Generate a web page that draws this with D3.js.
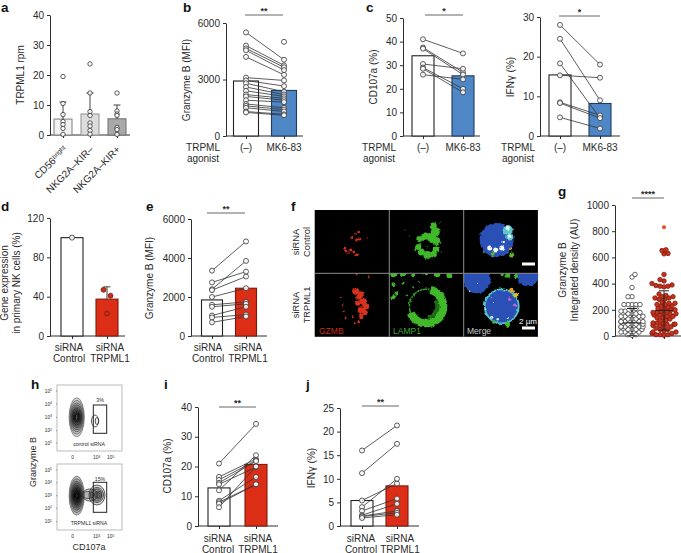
<!DOCTYPE html>
<html><head><meta charset="utf-8">
<script src="https://cdnjs.cloudflare.com/ajax/libs/d3/7.8.5/d3.min.js"></script>
<style>html,body{margin:0;padding:0;background:#fff}svg{display:block}text{font-family:"Liberation Sans",Arial,sans-serif;fill:#2a2a2a}</style>
</head><body><svg id="c" width="681" height="553"></svg>
<script>
// ---- data ----
const aCats=["CD56","NKG2A–KIR–","NKG2A–KIR+"];
const aMeans=[5.3,7,5.4];
const aErr=[11,14,10];
const aPts=[[19.5,10.5,6.8,4.5,3.5,2.2,0.2],[23.7,14,7.8,6.5,4,3,1.5,0.3],[14,8,7,6.5,2.5,1.8,0.2]];
const agonistCats=["(–)","MK6-83"];
const sirnaCats=["Control","TRPML1"];
const bMeans=[2920,2420];
const bL=[5500,4800,4650,4550,4200,3100,2950,2800,2600,2400,2200,2100,1900,1700,1600,1500,1300,1250];
const bR=[4050,3750,3650,3500,3250,2950,2650,2350,2200,2100,2000,1900,1800,1500,1400,1300,1150,1100];
const bExtra=[5000];
const c1Means=[34,25.5];
const c1L=[41,37.5,37,30.5,29,28.5,26];
const c1R=[35,27,26,28.5,20,18.5,24];
const c2Means=[15.4,8.2];
const c2L=[28,24.5,18.3,15.3,8.5,8.3,4.7];
const c2R=[18,9,4.5,14.7,5.2,4.5,1.9];
const dMeans=[100,37.5];
const dPts=[47,41,23];
const dErrTop=50;
const eMeans=[1850,2450];
const eL=[3350,2750,2400,2350,2000,1600,1500,1050,950,700];
const eR=[4850,3300,3850,3050,2450,1750,1650,1500,1100,1000];
const gLeft=[470,450,370,300,300,240,240,240,240,240,210,210,190,190,180,170,170,170,150,150,150,150,130,130,130,110,110,110,110,110,90,90,90,90,70,70,70,70,70,50,50,50,50,30,30,30,10,10,5];
const gRight=[652,627,630,658,470,430,420,400,390,385,380,375,380,320,310,300,300,290,290,280,280,260,250,250,240,240,230,230,220,210,210,200,200,190,190,180,180,170,170,170,160,160,150,150,140,140,130,120,120,100,100,100,90,90,90,80,80,70,70,60,50,50,40,30,30,20,20,10,10,10,5];
const gOutlier=[830];
const gStats=[{m:100,hi:210,lo:2},{m:195,hi:345,lo:45}];
const iMeans=[12.8,20.7];
const iL=[21,16.5,15.5,14.5,14,12,8.5,8,7.5,6.3];
const iR=[34.3,22.5,22,21.8,19.8,23.8,16.5,14,14,20];
const jMeans=[5.4,8.5];
const jL=[16,11.2,5.4,4,3.2,2.3,2.1,2,1.7];
const jR=[21.3,17.4,9,10,5.8,4.7,3.2,2.8,2.4];
const flowYTicks=["5","4","3","2","1"];
// micrograph spot lists: [x, y, r] inside one image tile
const ctlRed=[[44,22,1.3],[45,29,1.6],[42,30,1.5],[37,28,1.3],[52,28,1],[41,24,1],[30,38,1.5],[31,41,1.6],[36,40,1.6],[39,42,1.5],[42,45,1.4],[34,43,1.1]];
const ctlGreen=[[44,16,3.5],[46,22,4.5],[42,28,5],[36,27,4.5],[30,29,3],[47,31,4],[47,39,3.5],[44,44,3.5],[38,45,4],[32,42,3.5],[29,37,3],[26,40,1],[16,20,.5],[20,26,.5],[52,42,.6],[50,12,.5],[22,17,.4]];
const kdRed=[[41,18,3.5],[46,21,3],[44,24,2.5],[48,28,3.5],[51,33,3.5],[46,37,3],[50,39,3],[46,43,2.5],[43,30,2.5],[26,24,.9],[28,32,1],[29,38,1],[31,45,1],[40,50,1],[44,49,1.3],[38,44,1],[8,0,1],[20,1,1],[42,1,1],[54,4,1]];
const kdGreenTop=[[4,1,3],[14,0,3],[24,2,2],[36,0,2],[48,1,3],[60,2,3],[4,11,2],[14,10,1.5],[7,20,1.8],[4,24,2],[18,22,.9],[24,14,.9],[30,9,1.1]];
const mergeWhiteC=[[26,38,2.5],[32,40,2.5],[38,38,2.5],[44,18,2],[46,26,2],[40,32,1.2]];
const mergeWhiteK=[[28,44,1.5],[34,46,1.2],[14,10,.7],[6,18,.7],[30,30,.7],[44,45,1],[22,36,.8]];
const mergeHotK=[[48,17,2.5,"#e8a020"],[52,22,2.5,"#d9c030"],[46,26,1.8,"#c05ad0"],[51,32,1.8,"#c060d8"],[28,24,.9,"#d060c0"]];

// ---- helpers ----
const svg=d3.select("#c");
const defs=svg.append("defs");
const rough=defs.append("filter").attr("id","rough").attr("filterUnits","userSpaceOnUse").attr("x",-10).attr("y",-10).attr("width",100).attr("height",90);
rough.append("feTurbulence").attr("type","fractalNoise").attr("baseFrequency",.28).attr("numOctaves",2).attr("seed",4).attr("result","n");
rough.append("feDisplacementMap").attr("in","SourceGraphic").attr("in2","n").attr("scale",3).attr("xChannelSelector","R").attr("yChannelSelector","G");
rough.append("feGaussianBlur").attr("stdDeviation",.7);
defs.append("filter").attr("id","soft").append("feGaussianBlur").attr("stdDeviation",.3);
const INK="#2e2e2e", FS=10;
function txt(x,y,s,o={}){const t=svg.append("text").attr("x",x).attr("y",y).attr("font-size",o.fs||FS).attr("text-anchor",o.a||"middle").text(s);
  if(o.rot!=null)t.attr("transform",`rotate(${o.rot} ${x} ${y})`);
  if(o.w)t.attr("font-weight",o.w); if(o.fill)t.style("fill",o.fill); return t;}
function letter(s,x,y){txt(x,y,s,{fs:13.5,a:"start",w:"bold",fill:"#111"});}
function yAxis(x0,yTop,y0,max,ticks){
  const y=d3.scaleLinear().domain([0,max]).range([y0,yTop]);
  const g=svg.append("g").attr("transform",`translate(${x0},0)`).call(d3.axisLeft(y).tickValues(ticks).tickSize(3).tickSizeOuter(0).tickPadding(3).tickFormat(d3.format("d")));
  g.selectAll("text").attr("font-size",FS).style("font-family",'"Liberation Sans"');
  g.selectAll("line,path").attr("stroke",INK).attr("stroke-width",1);
  return y;
}
function xAxis(x0,xEnd,y0,cats,centers){
  const x=d3.scalePoint().domain(cats).range([centers[0],centers[centers.length-1]]);
  svg.append("line").attr("x1",x0).attr("x2",xEnd).attr("y1",y0).attr("y2",y0).attr("stroke",INK);
  const g=svg.append("g").attr("transform",`translate(0,${y0})`).call(d3.axisBottom(x).tickSize(3).tickSizeOuter(0).tickFormat(""));
  g.select("path").remove(); g.selectAll("line").attr("stroke",INK);
  return x;
}
function bars(x,y,cats,vals,w,fills,strokes){
  svg.selectAll(null).data(cats).enter().append("rect").attr("x",d=>x(d)-w/2).attr("width",w)
    .attr("y",(d,i)=>y(vals[i])).attr("height",(d,i)=>y(0)-y(vals[i]))
    .attr("fill",(d,i)=>fills[i]).attr("stroke",(d,i)=>strokes[i]).attr("stroke-width",1.1);
}
function pts(xv,ys,r=2.5,fill="#fff",stroke="#333"){
  svg.selectAll(null).data(ys).enter().append("circle").attr("cx",xv).attr("cy",d=>d).attr("r",r).attr("fill",fill).attr("fill-opacity",.85).attr("stroke",stroke).attr("stroke-width",.8);
}
function paired(x,y,cats,L,R){
  svg.selectAll(null).data(L).enter().append("line").attr("x1",x(cats[0])).attr("x2",x(cats[1]))
    .attr("y1",d=>y(d)).attr("y2",(d,i)=>y(R[i])).attr("stroke","#333").attr("stroke-width",.8);
  pts(x(cats[0]),L.map(y)); pts(x(cats[1]),R.map(y));
}
function sig(x1,x2,yy,s){
  svg.append("line").attr("x1",x1).attr("x2",x2).attr("y1",yy).attr("y2",yy).attr("stroke","#666").attr("stroke-width",1);
  txt((x1+x2)/2,yy-1.5,s,{fs:9,w:"bold"});
}
function errBar(cx,y1,y2){
  svg.append("line").attr("x1",cx).attr("x2",cx).attr("y1",y1).attr("y2",y2).attr("stroke","#444");
  svg.append("line").attr("x1",cx-3.5).attr("x2",cx+3.5).attr("y1",y2).attr("y2",y2).attr("stroke","#444");
}
function labelsTwo(cxs,y1,y2,top,bottom){cxs.forEach((c,i)=>{txt(c,y1,top);txt(c,y2,bottom[i]);});}
const WHITE="#fff",BK="#222",BLUE="#4f86c6",BLUEK="#1d3d5e",RED="#dc2e16",REDK="#7e1a0c";

// ---- a ----
letter("a",1,12);
{const y=yAxis(50,15,135,40,[0,10,20,30,40]);const x=xAxis(50,130,135,aCats,[63,90,117]);
 bars(x,y,aCats,aMeans,18,["#f1f1f1","#dcdcdc","#a9a9a9"],["#888","#999","#777"]);
 aCats.forEach((c,i)=>{errBar(x(c),y(aMeans[i]),y(aErr[i]));pts(x(c),aPts[i].map(y),2.2);});
 txt(24,75,"TRPML1 rpm",{rot:-90});
 const t=txt(68,150,"CD56",{a:"end",rot:-45});t.append("tspan").attr("font-size",6.5).attr("dy",-3).text("bright");
 txt(94,150,aCats[1],{a:"end",rot:-45}); txt(121,150,aCats[2],{a:"end",rot:-45});}

// ---- b ----
letter("b",183,12);
{const y=yAxis(226,23,136,6000,[0,3000,6000]);const x=xAxis(226,303,136,agonistCats,[246,284]);
 bars(x,y,agonistCats,bMeans,25,[WHITE,BLUE],[BK,BLUEK]);paired(x,y,agonistCats,bL,bR);pts(284,bExtra.map(y));
 sig(245,283,15,"**");txt(190,80,"Granzyme B (MFI)",{rot:-90});
 labelsTwo([203],150.5,162,"TRPML",["agonist"]);agonistCats.forEach(c=>txt(x(c),150.5,c));}

// ---- c ----
letter("c",366,12);
{const y=yAxis(403,18,136,50,[0,10,20,30,40,50]);const x=xAxis(403,480,136,agonistCats,[423,463]);
 bars(x,y,agonistCats,c1Means,22,[WHITE,BLUE],[BK,BLUEK]);paired(x,y,agonistCats,c1L,c1R);
 sig(425,463,15,"*");txt(377,77,"CD107a (%)",{rot:-90});
 labelsTwo([379],150.5,162,"TRPML",["agonist"]);agonistCats.forEach(c=>txt(x(c),150.5,c));}
{const y=yAxis(540,17,136,30,[0,10,20,30]);const x=xAxis(540,620,136,agonistCats,[560,600]);
 bars(x,y,agonistCats,c2Means,22,[WHITE,BLUE],[BK,BLUEK]);paired(x,y,agonistCats,c2L,c2R);
 sig(559,600,16,"*");
 const t=txt(514,77,"IFN",{rot:-90});t.append("tspan").style("font-family",'"DejaVu Sans"').text("γ");t.append("tspan").text(" (%)");
 labelsTwo([518],150.5,162,"TRPML",["agonist"]);agonistCats.forEach(c=>txt(x(c),150.5,c));}

// ---- d ----
letter("d",1,211);
{const y=yAxis(50,218,336,120,[0,40,80,120]);const x=xAxis(50,125,336,sirnaCats,[72,107]);
 bars(x,y,sirnaCats,dMeans,22,[WHITE,RED],[BK,REDK]);
 errBar(107,y(37.5),y(dErrTop));
 pts(72,[y(100)],2.5);
 svg.selectAll(null).data(dPts).enter().append("circle").attr("cx",(d,i)=>107+[-3.5,3.5,0][i]).attr("cy",d=>y(d)).attr("r",2.5).attr("fill","#c0301c").attr("stroke","#7a1a0d").attr("stroke-width",.7);
 txt(8,283,"Gene expression",{rot:-90});txt(20,283,"in primary NK cells (%)",{rot:-90});
 labelsTwo([69,110],350.5,362,"siRNA",sirnaCats);}

// ---- e ----
letter("e",146,211);
{const y=yAxis(191,219,336,6000,[0,2000,4000,6000]);const x=xAxis(191,267,336,sirnaCats,[212,246]);
 bars(x,y,sirnaCats,eMeans,21,[WHITE,RED],[BK,REDK]);paired(x,y,sirnaCats,eL,eR);
 sig(207,245,213,"**");txt(153,278,"Granzyme B (MFI)",{rot:-90});
 labelsTwo([208,248],350.5,362,"siRNA",sirnaCats);}

// ---- f ----
letter("f",291,211);
{const xs=[314.7,389.3,463.7],ys=[210,273.3],W=74.5,H=63.4;
 svg.append("rect").attr("x",xs[0]).attr("y",ys[0]).attr("width",W*3-.3).attr("height",H*2).attr("fill","#000");
 function tile(i,j,fn){const id=`cp${i}${j}`;
   defs.append("clipPath").attr("id",id).append("rect").attr("width",W).attr("height",H);
   const g=svg.append("g").attr("transform",`translate(${xs[i]},${ys[j]})`).attr("clip-path",`url(#${id})`).append("g").attr("filter","url(#rough)");fn(g);}
 function spots(g,arr,col){g.selectAll(null).data(arr).enter().append("circle").attr("cx",d=>d[0]).attr("cy",d=>d[1]).attr("r",d=>d[2]).attr("fill",d=>d[3]||col);}
 tile(0,0,g=>spots(g,ctlRed,"#d8301e"));
 tile(1,0,g=>{spots(g,ctlGreen,"#3fb82a");spots(g,[[37,33,3.5]],"#000");spots(g,[[38,37,1.5]],"#163f12");});
 tile(2,0,g=>{spots(g,[[33,30,17]],"#2b4fb5");spots(g,[[44,20,5],[46,27,3.5]],"#5fc8c8");spots(g,[[29,44,1.8],[48,45,2.6],[20,42,1]],"#58b82c");spots(g,mergeWhiteC,"#eefaf8");spots(g,[[47,39,1.5]],"#d8a040");});
 tile(0,1,g=>spots(g,kdRed,"#d8301e"));
 tile(1,1,g=>{spots(g,kdGreenTop,"#3fb82a");
   g.append("circle").attr("cx",37).attr("cy",33).attr("r",17).attr("fill","none").attr("stroke","#2f9a22").attr("stroke-width",1.6);
   const arc=d3.arc().innerRadius(13).outerRadius(21).startAngle(.25).endAngle(4.3);
   g.append("path").attr("transform","translate(37,33)").attr("d",arc()).attr("fill","#3fb82a");
   const arc2=d3.arc().innerRadius(9).outerRadius(13).startAngle(1).endAngle(3);
   g.append("path").attr("transform","translate(37,33)").attr("d",arc2()).attr("fill","#1e6e18");});
 tile(2,1,g=>{spots(g,[[13,6,14],[64,2,11],[38,33,17]],"#2b4fb5");
   g.append("circle").attr("cx",38).attr("cy",33).attr("r",17).attr("fill","none").attr("stroke","#54c4c4").attr("stroke-width",1.8);
   spots(g,[[38,1,2],[44,2,2.5],[52,3,2]],"#3fb82a");spots(g,[[30,49,1.5],[44,51,2.5]],"#46b830");spots(g,mergeWhiteK,"#d8f4f4");spots(g,mergeHotK);});
 [[xs[1],ys[0],xs[1],ys[0]+2*H],[xs[2],ys[0],xs[2],ys[0]+2*H],[xs[0],ys[1],xs[0]+3*W,ys[1]]].forEach(l=>svg.append("line").attr("x1",l[0]).attr("y1",l[1]).attr("x2",l[2]).attr("y2",l[3]).attr("stroke","#8c8c8c").attr("stroke-width",1));
 [264,328].forEach(v=>svg.append("rect").attr("x",522).attr("y",v-1.5).attr("width",13).attr("height",3).attr("fill","#fff"));
 txt(528,323.5,"2 µm",{fs:8,fill:"#fff"});
 txt(319,334,"GZMB",{a:"start",fs:8.5,fill:"#c8301e"});txt(393,334,"LAMP1",{a:"start",fs:8.5,fill:"#3fa82a"});txt(467,334,"Merge",{a:"start",fs:8.5,fill:"#ccc"});
 txt(299,242,"siRNA",{rot:-90,fs:9.3});txt(310,242,"Control",{rot:-90,fs:9.3});txt(299,305,"siRNA",{rot:-90,fs:9.3});txt(310,305,"TRPML1",{rot:-90,fs:9.3});}

// ---- g ----
letter("g",558,196);
{const y=yAxis(615,205,336,1000,[0,200,400,600,800,1000]);const gCats=["ctl","kd"];const x=xAxis(615,681,336,gCats,[632,664]);
 function swarm(vals,cx,fill,stroke){
   // collision-based beeswarm: each value keeps its y, and takes the nearest free x offset
   const placed=[];let side=1;
   [...vals].sort(d3.ascending).forEach(v=>{const py=y(v);let dx=0;
     for(let k=0;k<=12;k++){const cand=[side*k,-side*k].find(c=>placed.every(p=>Math.hypot(p.dx-c,p.py-py)>=3.7));
       if(cand!==undefined){dx=cand;break;} dx=side*Math.min(k,11);}
     side=-side;placed.push({v,py,dx});});
   svg.selectAll(null).data(placed).enter().append("circle").attr("cx",d=>cx+d.dx).attr("cy",d=>d.py).attr("r",2.25).attr("fill",fill).attr("stroke",stroke).attr("stroke-width",.75);}
 swarm(gLeft,632,"#fff","#333");swarm(gRight,664,"#c8321c","#7a1a0d");
 svg.selectAll(null).data(gOutlier).enter().append("circle").attr("cx",664).attr("cy",d=>y(d)).attr("r",2).attr("fill","#ee4a30");
 gStats.forEach((s,i)=>{const c=x(gCats[i]);
   svg.append("line").attr("x1",c).attr("x2",c).attr("y1",y(s.hi)).attr("y2",y(s.lo)).attr("stroke","#222");
   [[s.hi,5],[s.m,9],[s.lo,5]].forEach(p=>svg.append("line").attr("x1",c-p[1]).attr("x2",c+p[1]).attr("y1",y(p[0])).attr("y2",y(p[0])).attr("stroke","#222"));});
 sig(632,664,198,"****");
 txt(566,270,"Granzyme B",{rot:-90});txt(578,270,"Integrated density (AU)",{rot:-90});}

// ---- h ----
letter("h",31,389);
{function flow(y0,y1,tickYs,label,pct,gate,second,dark){
   svg.append("rect").attr("x",57).attr("y",y0).attr("width",65).attr("height",y1-y0).attr("fill","#fff").attr("stroke","#aaa").attr("stroke-width",.8);
   const main=[[7.6,19.5],[7,17],[6.4,14.5],[5.8,12.5],[5.2,10.5],[4.6,9],[4,7.5],[3.2,6],[2.4,4.6],[1.6,3.2]];
   const cy=tickYs[2];
   const g=svg.append("g").attr("filter","url(#soft)");
   g.selectAll(null).data(main).enter().append("ellipse").attr("cx",76.7).attr("cy",cy).attr("rx",d=>d[0]).attr("ry",d=>d[1]).attr("fill","#111").attr("fill-opacity",dark?.24:.14).attr("stroke",(d,i)=>d3.interpolateGreys(.66+i*.04)).attr("stroke-width",.8);
   g.selectAll(null).data(second).enter().append("ellipse").attr("cx",d=>d[0]).attr("cy",d=>d[1]).attr("rx",d=>d[2]).attr("ry",d=>d[3]).attr("fill","#111").attr("fill-opacity",dark?.16:.03).attr("stroke","#333").attr("stroke-width",.8);
   svg.append("rect").attr("x",93.3).attr("y",gate[0]).attr("width",13.4).attr("height",gate[1]-gate[0]).attr("fill","none").attr("stroke","#222").attr("stroke-width",1);
   tickYs.forEach((ty,i)=>{const t=txt(52,ty+1.5,"10",{fs:4.8,a:"end"});t.append("tspan").attr("dy",-1.5).attr("font-size",3.4).text(flowYTicks[i]);
     svg.append("line").attr("x1",56).attr("x2",57).attr("y1",ty).attr("y2",ty).attr("stroke","#555").attr("stroke-width",.6);});
   const xl=y1+8;txt(72.7,xl,"0",{fs:4.8});[[96.7,"4"],[110.7,"5"]].forEach(p=>{const t=txt(p[0],xl,"10",{fs:4.8});t.append("tspan").attr("dy",-1.5).attr("font-size",3.4).text(p[1]);});
   txt(89,y1-5.5,label,{fs:5.2});txt(100,gate[0]-(pct==="3%"?3:1.5),pct,{fs:5.2});
 }
 flow(385,451,[391,404,417.3,430.7,443],"control siRNA","3%",[405,433.3],[[95,421,3.5,6],[97,421,1.8,3.5]],false);
 flow(464,530,[470,482.7,495.7,508.3,521.7],"TRPML1 siRNA","15%",[482.3,512.3],[[97,495,8,10],[97,495,6.5,7.5],[97,495,5,6],[98,495,3.5,4],[98,495,2,2.6],[90,495,8,6],[88,495,6,3.5]],true);
 txt(36,462,"Granzyme B",{rot:-90,fs:9});txt(89,550,"CD107a",{fs:9});}

// ---- i ----
letter("i",164,389);
{const y=yAxis(198,407,526,40,[0,10,20,30,40]);const x=xAxis(198,278,526,sirnaCats,[219,256]);
 bars(x,y,sirnaCats,iMeans,22,[WHITE,RED],[BK,REDK]);paired(x,y,sirnaCats,iL,iR);
 sig(219,256,407,"**");txt(171,466,"CD107a (%)",{rot:-90});
 labelsTwo([218,258],541.5,552.5,"siRNA",sirnaCats);}

// ---- j ----
letter("j",306,389);
{const y=yAxis(340,408,526,25,[0,5,10,15,20,25]);const x=xAxis(340,419,526,sirnaCats,[362,397]);
 bars(x,y,sirnaCats,jMeans,22,[WHITE,RED],[BK,REDK]);paired(x,y,sirnaCats,jL,jR);
 sig(362,399,406,"**");
 const t=txt(315,468,"IFN",{rot:-90});t.append("tspan").style("font-family",'"DejaVu Sans"').text("γ");t.append("tspan").text(" (%)");
 labelsTwo([361,400],541.5,552.5,"siRNA",sirnaCats);}
</script></body></html>
